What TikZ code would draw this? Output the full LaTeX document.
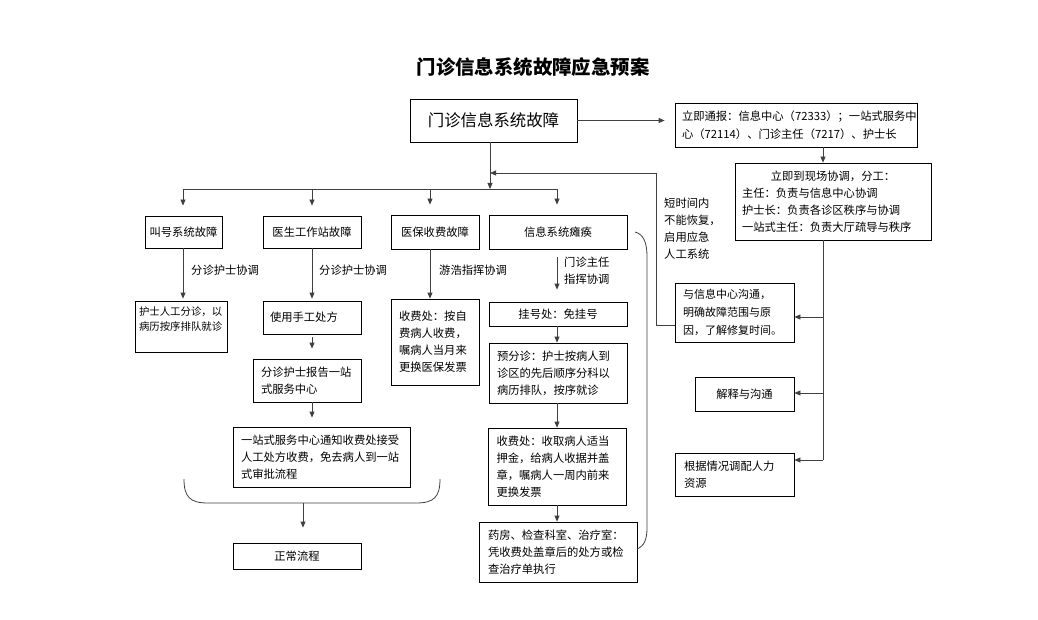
\documentclass[tikz,border=0pt]{standalone}
\usepackage{fontspec}
\setmainfont{Noto Sans CJK SC}
\usetikzlibrary{arrows.meta}
\newcommand\bodyfont{\fontsize{11.3}{17}\selectfont}
\begin{document}
\begin{tikzpicture}[x=1pt,y=-1pt,
  bx/.style={draw=black, line width=0.8pt, inner sep=0pt, font=\bodyfont},
  bxl/.style={bx, align=left},
  ln/.style={line width=0.8pt, draw=black!75},
  arr/.style={line width=0.8pt, draw=black!75, -{Triangle[length=6pt,width=5pt]}},
  lab/.style={font=\bodyfont, inner sep=0pt, align=left, anchor=west}]
\useasboundingbox (0,0) rectangle (1038,620);

% title
\node[font=\fontsize{19.4}{22}\selectfont\bfseries] (title) at (533,67) {门诊信息系统故障应急预案};

% top
\node[bx, minimum width=167pt, minimum height=43pt, font=\fontsize{16.4}{20}\selectfont] (main) at (493.5,120.5) {门诊信息系统故障};
\node[bxl, minimum width=242pt, minimum height=44pt, text width=228pt, inner xsep=7pt, font=\fontsize{11.3}{18}\selectfont] (notify) at (796,125) {立即通报：信息中心（72333）；一站式服务中\\心（72114）、门诊主任（7217）、护士长};
\node[bxl, minimum width=196pt, minimum height=77pt, text width=182pt, inner xsep=7pt] (coord) at (833,201.5) {\makebox[182pt][c]{立即到现场协调，分工：}\\主任：负责与信息中心协调\\护士长：负责各诊区秩序与协调\\一站式主任：负责大厅疏导与秩序};

% right column
\node[bxl, minimum width=119pt, minimum height=59pt, text width=103pt, inner xsep=8pt, font=\fontsize{11}{18}\selectfont] (comm) at (734.5,312.5) {与信息中心沟通，\\明确故障范围与原\\因，了解修复时间。};
\node[bx, minimum width=99pt, minimum height=34pt] (expl) at (744.5,394) {解释与沟通};
\node[bxl, minimum width=119pt, minimum height=43pt, text width=101pt, inner xsep=9pt] (res) at (734.5,474.5) {根据情况调配人力\\资源};
\node[lab] (lbl5) at (664,228.5) {短时间内\\不能恢复，\\启用应急\\人工系统};

% row 1
\node[bx, minimum width=77pt, minimum height=32pt] (b1) at (183.5,232) {叫号系统故障};
\node[bx, minimum width=98pt, minimum height=32pt] (b2) at (312,232) {医生工作站故障};
\node[bx, minimum width=88pt, minimum height=34pt] (b3) at (435,232) {医保收费故障};
\node[bx, minimum width=138pt, minimum height=34pt] (b4) at (558,232) {信息系统瘫痪};

% labels
\node[lab] (l1) at (191,270) {分诊护士协调};
\node[lab] (l2) at (319,270) {分诊护士协调};
\node[lab] (l3) at (439,270) {游浩指挥协调};
\node[lab] (l4) at (564,270.5) {门诊主任\\指挥协调};

% row 2
\node[bxl, minimum width=92pt, minimum height=51pt, text width=84pt, inner xsep=4pt, font=\fontsize{10.4}{15.5}\selectfont] (c1) at (181,326.5) {护士人工分诊，以\\病历按序排队就诊\\[-4pt]\strut};
\node[bxl, minimum width=98pt, minimum height=33pt, text width=84pt, inner xsep=7pt] (c2) at (312,317.5) {使用手工处方};
\node[bxl, minimum width=88pt, minimum height=86pt, text width=72pt, inner xsep=8pt] (c3) at (435,342) {收费处：按自\\费病人收费，\\嘱病人当月来\\更换医保发票};
\node[bx, minimum width=138pt, minimum height=24pt] (d1) at (558,314) {挂号处：免挂号};
\node[bxl, minimum width=138pt, minimum height=60pt, text width=122pt, inner xsep=8pt] (d2) at (558,373) {预分诊：护士按病人到\\诊区的先后顺序分科以\\病历排队，按序就诊};
\node[bxl, minimum width=138pt, minimum height=77pt, text width=121pt, inner xsep=8.5pt] (d3) at (557,466.5) {收费处：收取病人适当\\押金，给病人收据并盖\\章，嘱病人一周内前来\\更换发票};
\node[bxl, minimum width=158pt, minimum height=60pt, text width=140pt, inner xsep=9pt] (d4) at (558,552) {药房、检查科室、治疗室：\\凭收费处盖章后的处方或检\\查治疗单执行};
\node[bxl, minimum width=108pt, minimum height=43pt, text width=92pt, inner xsep=8pt] (e1) at (307,380.5) {分诊护士报告一站\\式服务中心};
\node[bxl, minimum width=177pt, minimum height=60pt, text width=161pt, inner xsep=8pt] (e2) at (321.5,457) {一站式服务中心通知收费处接受\\人工处方收费，免去病人到一站\\式审批流程};
\node[bx, minimum width=128pt, minimum height=26pt] (f) at (297,556) {正常流程};

% coordinates
\coordinate (j) at (490,189);
\coordinate (jl) at (183,189);
\coordinate (x2) at (312,189);
\coordinate (x3) at (430,189);
\coordinate (jr) at (557,189);
\coordinate (rc) at (823,147);
\coordinate (r1) at (823,317);
\coordinate (r2) at (823,393);
\coordinate (rb) at (823,460);
\coordinate (fb1) at (656,325);
\coordinate (fb2) at (656,173);
\coordinate (bb) at (303,503);

% connectors
\draw[arr, shorten >=10pt] (main.east) -- (main.east -| notify.west);
\draw[arr] (notify.south -| rc) -- (coord.north -| rc);
\draw[ln] (coord.south -| rc) -- (rb);
\draw[arr] (r1) -- (r1 -| comm.east);
\draw[arr] (r2) -- (r2 -| expl.east);
\draw[arr] (rb) -- (rb -| res.east);
\draw[arr] (fb1 -| comm.west) -- (fb1) -- (fb2) -- (fb2 -| j);

\draw[arr] (main.south -| j) -- (j);
\draw[ln] (jl) -- (jr);
\draw[arr, shorten >=10pt] (jl) -- (jl |- b1.north);
\draw[arr, shorten >=10pt] (x2) -- (x2 |- b2.north);
\draw[arr, shorten >=10pt] (x3) -- (x3 |- b3.north);
\draw[arr, shorten >=10pt] (jr) -- (jr |- b4.north);

\draw[arr, shorten >=2pt] (b1.south -| jl) -- (c1.north -| jl);
\draw[arr, shorten >=2pt] (b2.south -| x2) -- (c2.north -| x2);
\draw[arr] (b3.south -| x3) -- (c3.north -| x3);
\draw[arr, shorten <=8pt, shorten >=12pt] (b4.south -| jr) -- (d1.north -| jr);
\draw[arr] (d1.south -| jr) -- (d2.north -| jr);
\draw[arr] (d2.south -| jr) -- (d3.north -| jr);
\draw[arr] (d3.south -| jr) -- (d4.north -| jr);

\draw[arr, shorten <=3pt, shorten >=10pt] (c2.south -| x2) -- (e1.north -| x2);
\draw[arr, shorten >=9pt] (e1.south -| x2) -- (e2.north -| x2);

% braces
\draw[ln] (184,479) .. controls (184,497) and (190,503) .. (208,503) -- (416,503) .. controls (434,503) and (440,497) .. (440,479);
\draw[arr, shorten >=15pt] (bb) -- (bb |- f.north);
\draw[ln] (635,232) .. controls (643,234) and (647,242) .. (647,256) -- (647,528) .. controls (647,540) and (644,546) .. (637,549);
\end{tikzpicture}
\end{document}
